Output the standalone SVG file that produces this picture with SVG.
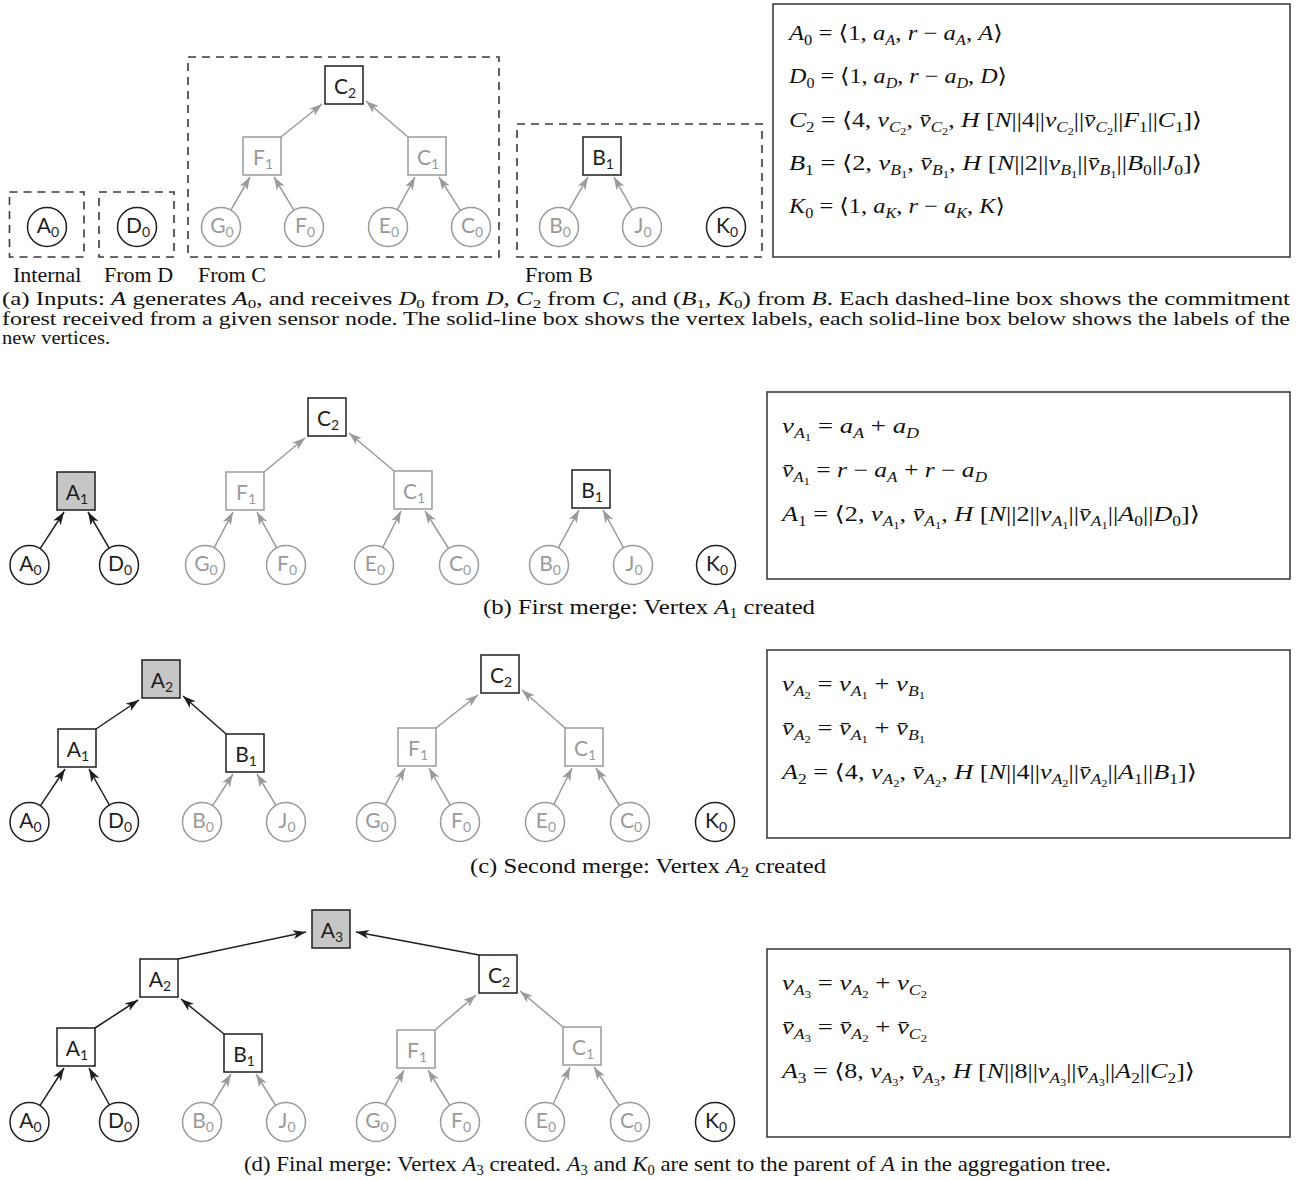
<svg xmlns="http://www.w3.org/2000/svg" width="1299" height="1180" viewBox="0 0 1299 1180">
<style>
.cb{fill:#fff;stroke:#1e1e1e;stroke-width:1.5}
.cg{fill:#fff;stroke:#9a9a9a;stroke-width:1.5}
.sb{fill:#fff;stroke:#1e1e1e;stroke-width:1.5}
.sg{fill:#fff;stroke:#9a9a9a;stroke-width:1.5}
.sn{fill:#c6c6c6;stroke:#1e1e1e;stroke-width:1.5}
.nl{font-family:Lato,"Open Sans",sans-serif;font-size:21px;text-anchor:middle}
.nl tspan{font-size:14px}
.tb{fill:#1e1e1e}
.tg{fill:#9a9a9a}
.eb{fill:none;stroke:#333;stroke-width:1.5}
.db{fill:none;stroke:#3a3a3a;stroke-width:1.6;stroke-dasharray:8 6}
.eq{font-family:"Liberation Serif","DejaVu Serif",serif;font-size:21px;fill:#111}
.i{font-style:italic}
.s{font-size:14px}
.ss{font-size:10px}
.cap{font-family:"Liberation Serif","DejaVu Serif",serif;font-size:22px;fill:#111}
.capa{font-family:"Liberation Serif","DejaVu Serif",serif;font-size:19px;fill:#111}
.cs{font-size:14px}
.ca{font-size:13px}
.eg{fill:none;stroke:#9a9a9a;stroke-width:1.5;marker-end:url(#ag)}
.ek{fill:none;stroke:#1e1e1e;stroke-width:1.5;marker-end:url(#ak)}
</style>
<defs>
<marker id="ag" markerUnits="userSpaceOnUse" markerWidth="14" markerHeight="10" viewBox="0 0 14 10" refX="13" refY="5" orient="auto"><path d="M0,0.5 L13,5 L0,9.5 L3.5,5 Z" fill="#9a9a9a"/></marker>
<marker id="ak" markerUnits="userSpaceOnUse" markerWidth="14" markerHeight="10" viewBox="0 0 14 10" refX="13" refY="5" orient="auto"><path d="M0,0.5 L13,5 L0,9.5 L3.5,5 Z" fill="#1e1e1e"/></marker>
</defs>
<rect width="1299" height="1180" fill="#fff"/>

<!-- ================= Panel (a) ================= -->
<g id="a-boxes">
<rect class="db" x="9.5" y="192" width="74.5" height="65"/>
<rect class="db" x="99" y="192" width="75" height="65"/>
<rect class="db" x="188" y="57" width="311" height="200"/>
<rect class="db" x="517" y="124" width="245" height="133"/>
</g>
<g id="a-edges">
<path class="eg" d="M230.8,210.1 L250,177"/>
<path class="eg" d="M294,210.3 L274,177"/>
<path class="eg" d="M397.3,209.8 L415,177"/>
<path class="eg" d="M460.5,210.6 L439,177"/>
<path class="eg" d="M281,137 L322,104"/>
<path class="eg" d="M408,137 L366,101"/>
<path class="eg" d="M568.8,210.1 L588,177"/>
<path class="eg" d="M632.6,209.9 L614,177"/>
</g>
<g id="a-A0"><circle class="cb" cx="47" cy="227" r="19.5"/><text class="nl tb" x="48" y="233">A<tspan dy="4">0</tspan></text></g>
<g id="a-D0"><circle class="cb" cx="137" cy="227" r="19.5"/><text class="nl tb" x="138" y="233">D<tspan dy="4">0</tspan></text></g>
<g id="a-G0"><circle class="cg" cx="221" cy="227" r="19.5"/><text class="nl tg" x="222" y="233">G<tspan dy="4">0</tspan></text></g>
<g id="a-F0"><circle class="cg" cx="304" cy="227" r="19.5"/><text class="nl tg" x="305" y="233">F<tspan dy="4">0</tspan></text></g>
<g id="a-E0"><circle class="cg" cx="388" cy="227" r="19.5"/><text class="nl tg" x="389" y="233">E<tspan dy="4">0</tspan></text></g>
<g id="a-C0"><circle class="cg" cx="471" cy="227" r="19.5"/><text class="nl tg" x="472" y="233">C<tspan dy="4">0</tspan></text></g>
<g id="a-F1"><rect class="sg" x="243" y="137" width="38" height="38"/><text class="nl tg" x="263" y="165">F<tspan dy="4">1</tspan></text></g>
<g id="a-C1"><rect class="sg" x="408" y="137" width="38" height="38"/><text class="nl tg" x="428" y="165">C<tspan dy="4">1</tspan></text></g>
<g id="a-C2"><rect class="sb" x="325" y="66" width="38" height="38"/><text class="nl tb" x="345" y="94">C<tspan dy="4">2</tspan></text></g>
<g id="a-B0"><circle class="cg" cx="559" cy="227" r="19.5"/><text class="nl tg" x="560" y="233">B<tspan dy="4">0</tspan></text></g>
<g id="a-J0"><circle class="cg" cx="642" cy="227" r="19.5"/><text class="nl tg" x="643" y="233">J<tspan dy="4">0</tspan></text></g>
<g id="a-K0"><circle class="cb" cx="726" cy="227" r="19.5"/><text class="nl tb" x="727" y="233">K<tspan dy="4">0</tspan></text></g>
<g id="a-B1"><rect class="sb" x="583" y="137" width="38" height="38"/><text class="nl tb" x="603" y="165">B<tspan dy="4">1</tspan></text></g>
<g id="a-labels" class="cap">
<text x="13" y="282">Internal</text>
<text x="104" y="282">From D</text>
<text x="198" y="282">From C</text>
<text x="525" y="282">From B</text>
</g>
<g id="a-eqbox">
<rect class="eb" x="773" y="4" width="517" height="253"/>
<text class="eq" x="789" y="40" textLength="214" lengthAdjust="spacingAndGlyphs"><tspan class="i">A</tspan><tspan class="s" dy="5">0</tspan><tspan dy="-5"> = ⟨1, </tspan><tspan class="i">a</tspan><tspan class="s i" dy="5">A</tspan><tspan dy="-5">, </tspan><tspan class="i">r</tspan> − <tspan class="i">a</tspan><tspan class="s i" dy="5">A</tspan><tspan dy="-5">, </tspan><tspan class="i">A</tspan>⟩</text>
<text class="eq" x="789" y="83" textLength="218" lengthAdjust="spacingAndGlyphs"><tspan class="i">D</tspan><tspan class="s" dy="5">0</tspan><tspan dy="-5"> = ⟨1, </tspan><tspan class="i">a</tspan><tspan class="s i" dy="5">D</tspan><tspan dy="-5">, </tspan><tspan class="i">r</tspan> − <tspan class="i">a</tspan><tspan class="s i" dy="5">D</tspan><tspan dy="-5">, </tspan><tspan class="i">D</tspan>⟩</text>
<text class="eq" x="789" y="127" textLength="413" lengthAdjust="spacingAndGlyphs"><tspan class="i">C</tspan><tspan class="s" dy="5">2</tspan><tspan dy="-5"> = ⟨4, </tspan><tspan class="i">v</tspan><tspan class="s i" dy="5">C</tspan><tspan class="ss" dy="3">2</tspan><tspan dy="-8">, </tspan><tspan class="i">v̄</tspan><tspan class="s i" dy="5">C</tspan><tspan class="ss" dy="3">2</tspan><tspan dy="-8">, </tspan><tspan class="i">H</tspan> [<tspan class="i">N</tspan>||4||<tspan class="i">v</tspan><tspan class="s i" dy="5">C</tspan><tspan class="ss" dy="3">2</tspan><tspan dy="-8">||</tspan><tspan class="i">v̄</tspan><tspan class="s i" dy="5">C</tspan><tspan class="ss" dy="3">2</tspan><tspan dy="-8">||</tspan><tspan class="i">F</tspan><tspan class="s" dy="5">1</tspan><tspan dy="-5">||</tspan><tspan class="i">C</tspan><tspan class="s" dy="5">1</tspan><tspan dy="-5">]⟩</tspan></text>
<text class="eq" x="789" y="170" textLength="413" lengthAdjust="spacingAndGlyphs"><tspan class="i">B</tspan><tspan class="s" dy="5">1</tspan><tspan dy="-5"> = ⟨2, </tspan><tspan class="i">v</tspan><tspan class="s i" dy="5">B</tspan><tspan class="ss" dy="3">1</tspan><tspan dy="-8">, </tspan><tspan class="i">v̄</tspan><tspan class="s i" dy="5">B</tspan><tspan class="ss" dy="3">1</tspan><tspan dy="-8">, </tspan><tspan class="i">H</tspan> [<tspan class="i">N</tspan>||2||<tspan class="i">v</tspan><tspan class="s i" dy="5">B</tspan><tspan class="ss" dy="3">1</tspan><tspan dy="-8">||</tspan><tspan class="i">v̄</tspan><tspan class="s i" dy="5">B</tspan><tspan class="ss" dy="3">1</tspan><tspan dy="-8">||</tspan><tspan class="i">B</tspan><tspan class="s" dy="5">0</tspan><tspan dy="-5">||</tspan><tspan class="i">J</tspan><tspan class="s" dy="5">0</tspan><tspan dy="-5">]⟩</tspan></text>
<text class="eq" x="789" y="213" textLength="216" lengthAdjust="spacingAndGlyphs"><tspan class="i">K</tspan><tspan class="s" dy="5">0</tspan><tspan dy="-5"> = ⟨1, </tspan><tspan class="i">a</tspan><tspan class="s i" dy="5">K</tspan><tspan dy="-5">, </tspan><tspan class="i">r</tspan> − <tspan class="i">a</tspan><tspan class="s i" dy="5">K</tspan><tspan dy="-5">, </tspan><tspan class="i">K</tspan>⟩</text>
</g>
<g id="a-caption" class="capa">
<text x="2" y="305" textLength="1288" lengthAdjust="spacingAndGlyphs">(a) Inputs: <tspan class="i">A</tspan> generates <tspan class="i">A</tspan><tspan class="ca" dy="3">0</tspan><tspan dy="-3">, and receives </tspan><tspan class="i">D</tspan><tspan class="ca" dy="3">0</tspan><tspan dy="-3"> from </tspan><tspan class="i">D</tspan>, <tspan class="i">C</tspan><tspan class="ca" dy="3">2</tspan><tspan dy="-3"> from </tspan><tspan class="i">C</tspan>, and (<tspan class="i">B</tspan><tspan class="ca" dy="3">1</tspan><tspan dy="-3">, </tspan><tspan class="i">K</tspan><tspan class="ca" dy="3">0</tspan><tspan dy="-3">) from </tspan><tspan class="i">B</tspan>. Each dashed-line box shows the commitment</text>
<text x="2" y="325" textLength="1288" lengthAdjust="spacingAndGlyphs">forest received from a given sensor node. The solid-line box shows the vertex labels, each solid-line box below shows the labels of the</text>
<text x="2" y="344" textLength="108" lengthAdjust="spacingAndGlyphs">new vertices.</text>
</g>

<!-- ================= Panel (b) ================= -->
<g id="b-edges">
<path class="ek" d="M40.1,548.7 L64,512"/>
<path class="ek" d="M109.2,548.2 L88,512"/>
<path class="eg" d="M214.1,547.8 L233,512"/>
<path class="eg" d="M276.6,547.9 L257,512"/>
<path class="eg" d="M382.7,547.6 L401,511"/>
<path class="eg" d="M448.6,548.5 L425,511"/>
<path class="eg" d="M264,472 L305,438"/>
<path class="eg" d="M394,471 L349,433"/>
<path class="eg" d="M558.3,547.9 L579,510"/>
<path class="eg" d="M623.7,547.9 L603,510"/>
</g>
<g id="b-A1"><rect class="sn" x="57" y="472" width="38" height="38"/><text class="nl tb" x="77" y="500">A<tspan dy="4">1</tspan></text></g>
<g id="b-A0"><circle class="cb" cx="29.5" cy="565" r="19.5"/><text class="nl tb" x="30.5" y="571">A<tspan dy="4">0</tspan></text></g>
<g id="b-D0"><circle class="cb" cx="119" cy="565" r="19.5"/><text class="nl tb" x="120" y="571">D<tspan dy="4">0</tspan></text></g>
<g id="b-C2"><rect class="sb" x="308" y="398" width="38" height="38"/><text class="nl tb" x="328" y="426">C<tspan dy="4">2</tspan></text></g>
<g id="b-F1"><rect class="sg" x="226" y="472" width="38" height="38"/><text class="nl tg" x="246" y="500">F<tspan dy="4">1</tspan></text></g>
<g id="b-C1"><rect class="sg" x="394" y="471" width="38" height="38"/><text class="nl tg" x="414" y="499">C<tspan dy="4">1</tspan></text></g>
<g id="b-G0"><circle class="cg" cx="205" cy="565" r="19.5"/><text class="nl tg" x="206" y="571">G<tspan dy="4">0</tspan></text></g>
<g id="b-F0"><circle class="cg" cx="286" cy="565" r="19.5"/><text class="nl tg" x="287" y="571">F<tspan dy="4">0</tspan></text></g>
<g id="b-E0"><circle class="cg" cx="374" cy="565" r="19.5"/><text class="nl tg" x="375" y="571">E<tspan dy="4">0</tspan></text></g>
<g id="b-C0"><circle class="cg" cx="459" cy="565" r="19.5"/><text class="nl tg" x="460" y="571">C<tspan dy="4">0</tspan></text></g>
<g id="b-B1"><rect class="sb" x="572" y="470" width="38" height="38"/><text class="nl tb" x="592" y="498">B<tspan dy="4">1</tspan></text></g>
<g id="b-B0"><circle class="cg" cx="549" cy="565" r="19.5"/><text class="nl tg" x="550" y="571">B<tspan dy="4">0</tspan></text></g>
<g id="b-J0"><circle class="cg" cx="633" cy="565" r="19.5"/><text class="nl tg" x="634" y="571">J<tspan dy="4">0</tspan></text></g>
<g id="b-K0"><circle class="cb" cx="716" cy="565" r="19.5"/><text class="nl tb" x="717" y="571">K<tspan dy="4">0</tspan></text></g>
<g id="b-eqbox">
<rect class="eb" x="767" y="392" width="523" height="187"/>
<text class="eq" x="782" y="433" textLength="137" lengthAdjust="spacingAndGlyphs"><tspan class="i">v</tspan><tspan class="s i" dy="5">A</tspan><tspan class="ss" dy="3">1</tspan><tspan dy="-8"> = </tspan><tspan class="i">a</tspan><tspan class="s i" dy="5">A</tspan><tspan dy="-5"> + </tspan><tspan class="i">a</tspan><tspan class="s i" dy="5">D</tspan></text>
<text class="eq" x="782" y="477" textLength="205" lengthAdjust="spacingAndGlyphs"><tspan class="i">v̄</tspan><tspan class="s i" dy="5">A</tspan><tspan class="ss" dy="3">1</tspan><tspan dy="-8"> = </tspan><tspan class="i">r</tspan> − <tspan class="i">a</tspan><tspan class="s i" dy="5">A</tspan><tspan dy="-5"> + </tspan><tspan class="i">r</tspan> − <tspan class="i">a</tspan><tspan class="s i" dy="5">D</tspan></text>
<text class="eq" x="782" y="521" textLength="418" lengthAdjust="spacingAndGlyphs"><tspan class="i">A</tspan><tspan class="s" dy="5">1</tspan><tspan dy="-5"> = ⟨2, </tspan><tspan class="i">v</tspan><tspan class="s i" dy="5">A</tspan><tspan class="ss" dy="3">1</tspan><tspan dy="-8">, </tspan><tspan class="i">v̄</tspan><tspan class="s i" dy="5">A</tspan><tspan class="ss" dy="3">1</tspan><tspan dy="-8">, </tspan><tspan class="i">H</tspan> [<tspan class="i">N</tspan>||2||<tspan class="i">v</tspan><tspan class="s i" dy="5">A</tspan><tspan class="ss" dy="3">1</tspan><tspan dy="-8">||</tspan><tspan class="i">v̄</tspan><tspan class="s i" dy="5">A</tspan><tspan class="ss" dy="3">1</tspan><tspan dy="-8">||</tspan><tspan class="i">A</tspan><tspan class="s" dy="5">0</tspan><tspan dy="-5">||</tspan><tspan class="i">D</tspan><tspan class="s" dy="5">0</tspan><tspan dy="-5">]⟩</tspan></text>
</g>
<text id="b-caption" class="cap" x="483" y="614" textLength="332" lengthAdjust="spacingAndGlyphs">(b) First merge: Vertex <tspan class="i">A</tspan><tspan class="cs" dy="4">1</tspan><tspan dy="-4"> created</tspan></text>

<!-- ================= Panel (c) ================= -->
<g id="c-edges">
<path class="ek" d="M40.3,805.8 L65,769"/>
<path class="ek" d="M109.4,805 L89,769"/>
<path class="eg" d="M212.6,805.6 L233,774"/>
<path class="eg" d="M275.9,805.3 L257,774"/>
<path class="ek" d="M96,729 L139,700"/>
<path class="ek" d="M226,734 L183,696"/>
<path class="eg" d="M385.2,804.8 L405,768"/>
<path class="eg" d="M450.3,805.1 L429,768"/>
<path class="eg" d="M553.7,804.6 L572,768"/>
<path class="eg" d="M619.6,805.5 L596,768"/>
<path class="eg" d="M436,728 L478,695"/>
<path class="eg" d="M565,728 L522,690"/>
</g>
<g id="c-A2"><rect class="sn" x="142" y="660" width="38" height="38"/><text class="nl tb" x="162" y="688">A<tspan dy="4">2</tspan></text></g>
<g id="c-A1"><rect class="sb" x="58" y="729" width="38" height="38"/><text class="nl tb" x="78" y="757">A<tspan dy="4">1</tspan></text></g>
<g id="c-B1"><rect class="sb" x="226" y="734" width="38" height="38"/><text class="nl tb" x="246" y="762">B<tspan dy="4">1</tspan></text></g>
<g id="c-A0"><circle class="cb" cx="29.5" cy="822" r="19.5"/><text class="nl tb" x="30.5" y="828">A<tspan dy="4">0</tspan></text></g>
<g id="c-D0"><circle class="cb" cx="119" cy="822" r="19.5"/><text class="nl tb" x="120" y="828">D<tspan dy="4">0</tspan></text></g>
<g id="c-B0"><circle class="cg" cx="202" cy="822" r="19.5"/><text class="nl tg" x="203" y="828">B<tspan dy="4">0</tspan></text></g>
<g id="c-J0"><circle class="cg" cx="286" cy="822" r="19.5"/><text class="nl tg" x="287" y="828">J<tspan dy="4">0</tspan></text></g>
<g id="c-C2"><rect class="sb" x="481" y="655" width="38" height="38"/><text class="nl tb" x="501" y="683">C<tspan dy="4">2</tspan></text></g>
<g id="c-F1"><rect class="sg" x="398" y="728" width="38" height="38"/><text class="nl tg" x="418" y="756">F<tspan dy="4">1</tspan></text></g>
<g id="c-C1"><rect class="sg" x="565" y="728" width="38" height="38"/><text class="nl tg" x="585" y="756">C<tspan dy="4">1</tspan></text></g>
<g id="c-G0"><circle class="cg" cx="376" cy="822" r="19.5"/><text class="nl tg" x="377" y="828">G<tspan dy="4">0</tspan></text></g>
<g id="c-F0"><circle class="cg" cx="460" cy="822" r="19.5"/><text class="nl tg" x="461" y="828">F<tspan dy="4">0</tspan></text></g>
<g id="c-E0"><circle class="cg" cx="545" cy="822" r="19.5"/><text class="nl tg" x="546" y="828">E<tspan dy="4">0</tspan></text></g>
<g id="c-C0"><circle class="cg" cx="630" cy="822" r="19.5"/><text class="nl tg" x="631" y="828">C<tspan dy="4">0</tspan></text></g>
<g id="c-K0"><circle class="cb" cx="715" cy="822" r="19.5"/><text class="nl tb" x="716" y="828">K<tspan dy="4">0</tspan></text></g>
<g id="c-eqbox">
<rect class="eb" x="767" y="650" width="523" height="188"/>
<text class="eq" x="782" y="691" textLength="143" lengthAdjust="spacingAndGlyphs"><tspan class="i">v</tspan><tspan class="s i" dy="5">A</tspan><tspan class="ss" dy="3">2</tspan><tspan dy="-8"> = </tspan><tspan class="i">v</tspan><tspan class="s i" dy="5">A</tspan><tspan class="ss" dy="3">1</tspan><tspan dy="-8"> + </tspan><tspan class="i">v</tspan><tspan class="s i" dy="5">B</tspan><tspan class="ss" dy="3">1</tspan></text>
<text class="eq" x="782" y="735" textLength="143" lengthAdjust="spacingAndGlyphs"><tspan class="i">v̄</tspan><tspan class="s i" dy="5">A</tspan><tspan class="ss" dy="3">2</tspan><tspan dy="-8"> = </tspan><tspan class="i">v̄</tspan><tspan class="s i" dy="5">A</tspan><tspan class="ss" dy="3">1</tspan><tspan dy="-8"> + </tspan><tspan class="i">v̄</tspan><tspan class="s i" dy="5">B</tspan><tspan class="ss" dy="3">1</tspan></text>
<text class="eq" x="782" y="779" textLength="415" lengthAdjust="spacingAndGlyphs"><tspan class="i">A</tspan><tspan class="s" dy="5">2</tspan><tspan dy="-5"> = ⟨4, </tspan><tspan class="i">v</tspan><tspan class="s i" dy="5">A</tspan><tspan class="ss" dy="3">2</tspan><tspan dy="-8">, </tspan><tspan class="i">v̄</tspan><tspan class="s i" dy="5">A</tspan><tspan class="ss" dy="3">2</tspan><tspan dy="-8">, </tspan><tspan class="i">H</tspan> [<tspan class="i">N</tspan>||4||<tspan class="i">v</tspan><tspan class="s i" dy="5">A</tspan><tspan class="ss" dy="3">2</tspan><tspan dy="-8">||</tspan><tspan class="i">v̄</tspan><tspan class="s i" dy="5">A</tspan><tspan class="ss" dy="3">2</tspan><tspan dy="-8">||</tspan><tspan class="i">A</tspan><tspan class="s" dy="5">1</tspan><tspan dy="-5">||</tspan><tspan class="i">B</tspan><tspan class="s" dy="5">1</tspan><tspan dy="-5">]⟩</tspan></text>
</g>
<text id="c-caption" class="cap" x="470" y="873" textLength="356" lengthAdjust="spacingAndGlyphs">(c) Second merge: Vertex <tspan class="i">A</tspan><tspan class="cs" dy="4">2</tspan><tspan dy="-4"> created</tspan></text>

<!-- ================= Panel (d) ================= -->
<g id="d-edges">
<path class="ek" d="M178,959 L306,932"/>
<path class="ek" d="M479,955 L356,932"/>
<path class="ek" d="M95,1028 L138,1000"/>
<path class="ek" d="M224,1034 L181,999"/>
<path class="ek" d="M40,1105.6 L64,1068"/>
<path class="ek" d="M109.5,1105 L89,1068"/>
<path class="eg" d="M212.1,1105.3 L231,1074"/>
<path class="eg" d="M275.7,1105.5 L256,1074"/>
<path class="eg" d="M385.2,1104.8 L404,1070"/>
<path class="eg" d="M449.8,1105.4 L428,1070"/>
<path class="eg" d="M553.1,1104.2 L570,1067"/>
<path class="eg" d="M619.3,1105.7 L594,1067"/>
<path class="eg" d="M435,1030 L476,995"/>
<path class="eg" d="M563,1027 L520,991"/>
</g>
<g id="d-A3"><rect class="sn" x="312" y="910" width="38" height="38"/><text class="nl tb" x="332" y="938">A<tspan dy="4">3</tspan></text></g>
<g id="d-A2"><rect class="sb" x="140" y="959" width="38" height="38"/><text class="nl tb" x="160" y="987">A<tspan dy="4">2</tspan></text></g>
<g id="d-C2"><rect class="sb" x="479" y="955" width="38" height="38"/><text class="nl tb" x="499" y="983">C<tspan dy="4">2</tspan></text></g>
<g id="d-A1"><rect class="sb" x="57" y="1028" width="38" height="38"/><text class="nl tb" x="77" y="1056">A<tspan dy="4">1</tspan></text></g>
<g id="d-B1"><rect class="sb" x="224" y="1034" width="38" height="38"/><text class="nl tb" x="244" y="1062">B<tspan dy="4">1</tspan></text></g>
<g id="d-F1"><rect class="sg" x="397" y="1030" width="38" height="38"/><text class="nl tg" x="417" y="1058">F<tspan dy="4">1</tspan></text></g>
<g id="d-C1"><rect class="sg" x="563" y="1027" width="38" height="38"/><text class="nl tg" x="583" y="1055">C<tspan dy="4">1</tspan></text></g>
<g id="d-A0"><circle class="cb" cx="29.5" cy="1122" r="19.5"/><text class="nl tb" x="30.5" y="1128">A<tspan dy="4">0</tspan></text></g>
<g id="d-D0"><circle class="cb" cx="119" cy="1122" r="19.5"/><text class="nl tb" x="120" y="1128">D<tspan dy="4">0</tspan></text></g>
<g id="d-B0"><circle class="cg" cx="202" cy="1122" r="19.5"/><text class="nl tg" x="203" y="1128">B<tspan dy="4">0</tspan></text></g>
<g id="d-J0"><circle class="cg" cx="286" cy="1122" r="19.5"/><text class="nl tg" x="287" y="1128">J<tspan dy="4">0</tspan></text></g>
<g id="d-G0"><circle class="cg" cx="376" cy="1122" r="19.5"/><text class="nl tg" x="377" y="1128">G<tspan dy="4">0</tspan></text></g>
<g id="d-F0"><circle class="cg" cx="460" cy="1122" r="19.5"/><text class="nl tg" x="461" y="1128">F<tspan dy="4">0</tspan></text></g>
<g id="d-E0"><circle class="cg" cx="545" cy="1122" r="19.5"/><text class="nl tg" x="546" y="1128">E<tspan dy="4">0</tspan></text></g>
<g id="d-C0"><circle class="cg" cx="630" cy="1122" r="19.5"/><text class="nl tg" x="631" y="1128">C<tspan dy="4">0</tspan></text></g>
<g id="d-K0"><circle class="cb" cx="715" cy="1122" r="19.5"/><text class="nl tb" x="716" y="1128">K<tspan dy="4">0</tspan></text></g>
<g id="d-eqbox">
<rect class="eb" x="767" y="949" width="523" height="188"/>
<text class="eq" x="782" y="990" textLength="145" lengthAdjust="spacingAndGlyphs"><tspan class="i">v</tspan><tspan class="s i" dy="5">A</tspan><tspan class="ss" dy="3">3</tspan><tspan dy="-8"> = </tspan><tspan class="i">v</tspan><tspan class="s i" dy="5">A</tspan><tspan class="ss" dy="3">2</tspan><tspan dy="-8"> + </tspan><tspan class="i">v</tspan><tspan class="s i" dy="5">C</tspan><tspan class="ss" dy="3">2</tspan></text>
<text class="eq" x="782" y="1034" textLength="145" lengthAdjust="spacingAndGlyphs"><tspan class="i">v̄</tspan><tspan class="s i" dy="5">A</tspan><tspan class="ss" dy="3">3</tspan><tspan dy="-8"> = </tspan><tspan class="i">v̄</tspan><tspan class="s i" dy="5">A</tspan><tspan class="ss" dy="3">2</tspan><tspan dy="-8"> + </tspan><tspan class="i">v̄</tspan><tspan class="s i" dy="5">C</tspan><tspan class="ss" dy="3">2</tspan></text>
<text class="eq" x="782" y="1078" textLength="413" lengthAdjust="spacingAndGlyphs"><tspan class="i">A</tspan><tspan class="s" dy="5">3</tspan><tspan dy="-5"> = ⟨8, </tspan><tspan class="i">v</tspan><tspan class="s i" dy="5">A</tspan><tspan class="ss" dy="3">3</tspan><tspan dy="-8">, </tspan><tspan class="i">v̄</tspan><tspan class="s i" dy="5">A</tspan><tspan class="ss" dy="3">3</tspan><tspan dy="-8">, </tspan><tspan class="i">H</tspan> [<tspan class="i">N</tspan>||8||<tspan class="i">v</tspan><tspan class="s i" dy="5">A</tspan><tspan class="ss" dy="3">3</tspan><tspan dy="-8">||</tspan><tspan class="i">v̄</tspan><tspan class="s i" dy="5">A</tspan><tspan class="ss" dy="3">3</tspan><tspan dy="-8">||</tspan><tspan class="i">A</tspan><tspan class="s" dy="5">2</tspan><tspan dy="-5">||</tspan><tspan class="i">C</tspan><tspan class="s" dy="5">2</tspan><tspan dy="-5">]⟩</tspan></text>
</g>
<text id="d-caption" class="cap" x="244" y="1171" textLength="867" lengthAdjust="spacingAndGlyphs">(d) Final merge: Vertex <tspan class="i">A</tspan><tspan class="cs" dy="4">3</tspan><tspan dy="-4"> created. </tspan><tspan class="i">A</tspan><tspan class="cs" dy="4">3</tspan><tspan dy="-4"> and </tspan><tspan class="i">K</tspan><tspan class="cs" dy="4">0</tspan><tspan dy="-4"> are sent to the parent of </tspan><tspan class="i">A</tspan> in the aggregation tree.</text>
</svg>
